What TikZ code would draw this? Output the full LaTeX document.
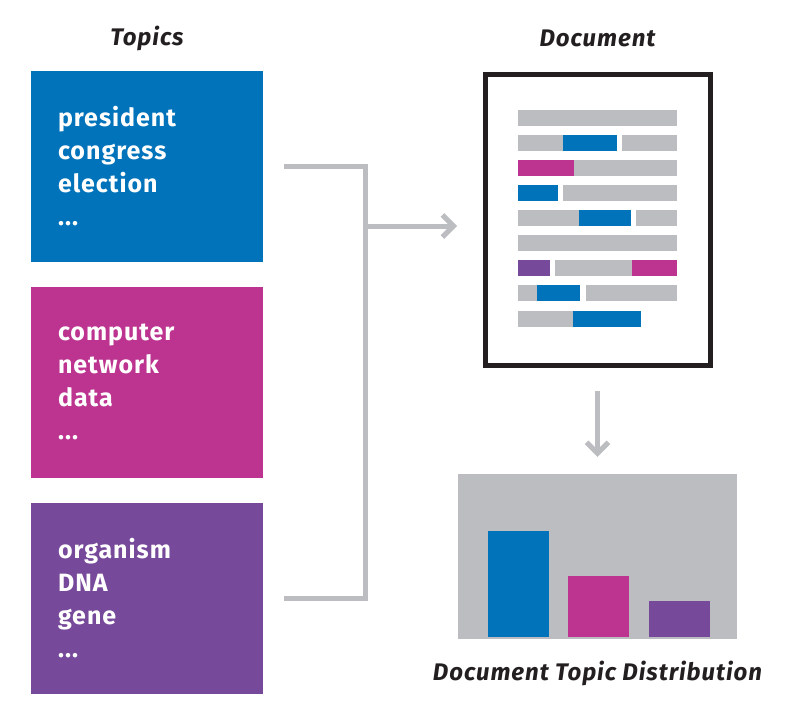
\documentclass[tikz,border=0pt]{standalone}
\usepackage{fontspec}
\setmainfont{Fira Sans}
\newfontfamily\topicfont[LetterSpace=4]{Fira Sans}
\newfontfamily\headfont[LetterSpace=4]{Fira Sans}
\usetikzlibrary{positioning,arrows.meta}
\definecolor{topicBlue}{RGB}{0,115,186}
\definecolor{topicPink}{RGB}{188,52,144}
\definecolor{topicPurple}{RGB}{119,73,154}
\definecolor{barGray}{RGB}{188,189,192}
\definecolor{inkBlack}{RGB}{35,31,32}
\def\dy{24.5pt}
\tikzstyle{topic}=[minimum width=232pt,minimum height=191pt,text width=178pt,
  align=left,inner sep=0pt,text=white,font=\topicfont\fontsize{25}{33}\selectfont\bfseries]
\tikzstyle{heading}=[font=\headfont\fontsize{24}{28}\selectfont\bfseries\itshape,text=inkBlack]
\tikzstyle{link}=[draw=barGray,line width=5pt]
\newcommand{\newTopic}[4]{\node[topic,fill=#3](#1)[#4]{#2};}
\newcommand{\newBar}[4]{\fill[#4] (#2,#1-8) rectangle (#3,#1+8);}

\begin{document}
\begin{tikzpicture}[x=1pt,y=-1pt,node distance=\dy,
  >={Straight Barb[length=11pt,width=22pt]}
  ]
  \useasboundingbox (0,0) rectangle (797,725);
  % topics
  \newTopic{tPol}{president\\congress\\election\\...}{topicBlue}{at={(147,166.5)}}
  \newTopic{tTech}{computer\\network\\data\\...}{topicPink}{below=of tPol}
  \newTopic{tBio}{organism\\DNA\\gene\\...}{topicPurple}{below=of tTech}
  \node[heading] (hTopics) at (147,38) {Topics};
  % document
  \node[draw=inkBlack,line width=5pt,minimum width=225pt,minimum height=291pt,
    inner sep=0pt] (doc) at (597.5,219.5) {};
  \node[heading] (hDoc) at (597.5,38) {Document};
  \newBar{118}{518}{677}{barGray}
  \newBar{143}{518}{563}{barGray}
  \newBar{143}{563}{617}{topicBlue}
  \newBar{143}{622}{677}{barGray}
  \newBar{168}{518}{574}{topicPink}
  \newBar{168}{574}{677}{barGray}
  \newBar{193}{518}{558}{topicBlue}
  \newBar{193}{563}{677}{barGray}
  \newBar{218}{518}{579}{barGray}
  \newBar{218}{579}{631}{topicBlue}
  \newBar{218}{636}{677}{barGray}
  \newBar{243}{518}{677}{barGray}
  \newBar{268}{518}{550}{topicPurple}
  \newBar{268}{555}{632}{barGray}
  \newBar{268}{632}{677}{topicPink}
  \newBar{293}{518}{537}{barGray}
  \newBar{293}{537}{580}{topicBlue}
  \newBar{293}{586}{677}{barGray}
  \newBar{319}{518}{573}{barGray}
  \newBar{319}{573}{641}{topicBlue}
  % distribution
  \node[fill=barGray,minimum width=279pt,minimum height=165pt,inner sep=0pt]
    (dist) at (597.5,556.5) {};
  \node[heading] (hDist) at (597.5,673) {Document Topic Distribution};
  \fill[topicBlue] (488,531) rectangle (549,637);
  \fill[topicPink] (568,576) rectangle (629,637);
  \fill[topicPurple] (649,601) rectangle (710,637);
  % connectors
  \coordinate (jTop) at ([xshift=102pt]tPol.east);
  \coordinate (jBot) at ([xshift=102pt]tBio.east);
  \coordinate (jMid) at (365,226);
  \coordinate (aEnd) at (457,226);
  \draw[link] ([xshift=21pt]tPol.east) -- (jTop) -- (jBot) -- ([xshift=21pt]tBio.east);
  \draw[link,->] (jMid) -- (aEnd);
  \draw[link,->,shorten <=23pt,shorten >=17pt] (doc.south) -- (dist.north);
\end{tikzpicture}
\end{document}
